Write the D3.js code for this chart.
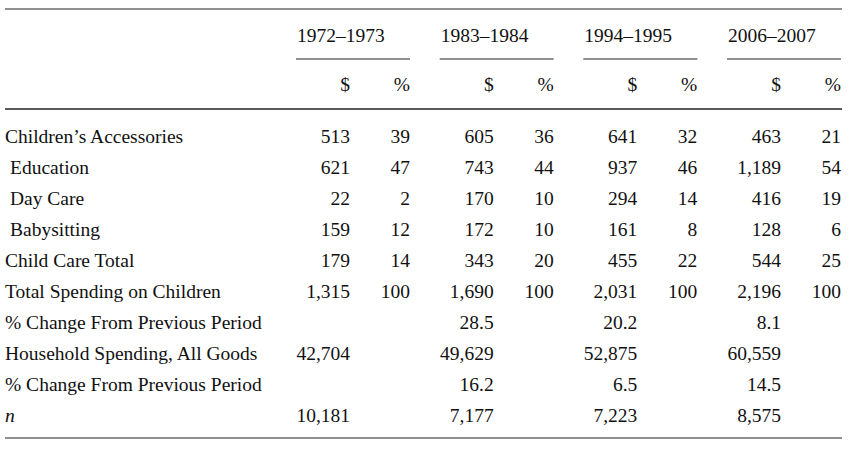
<!DOCTYPE html>
<html><head><meta charset="utf-8">
<script src="https://cdn.jsdelivr.net/npm/d3@7"></script>
<style>body{margin:0;background:#fff}text{font-family:"Liberation Serif","Times New Roman",serif;font-size:19.5px;fill:#111}</style>
</head><body><svg id="tbl" width="862" height="455"></svg>
<script>
const periods = ["1972–1973", "1983–1984", "1994–1995", "2006–2007"];
const rowLabels = ["Children’s Accessories", " Education", " Day Care", " Babysitting", "Child Care Total",
  "Total Spending on Children", "% Change From Previous Period", "Household Spending, All Goods",
  "% Change From Previous Period", "n"];
const dollars = [
  ["513", "605", "641", "463"],
  ["621", "743", "937", "1,189"],
  ["22", "170", "294", "416"],
  ["159", "172", "161", "128"],
  ["179", "343", "455", "544"],
  ["1,315", "1,690", "2,031", "2,196"],
  ["", "28.5", "20.2", "8.1"],
  ["42,704", "49,629", "52,875", "60,559"],
  ["", "16.2", "6.5", "14.5"],
  ["10,181", "7,177", "7,223", "8,575"]
];
const percents = [
  ["39", "36", "32", "21"],
  ["47", "44", "46", "54"],
  ["2", "10", "14", "19"],
  ["12", "10", "8", "6"],
  ["14", "20", "22", "25"],
  ["100", "100", "100", "100"],
  ["", "", "", ""],
  ["", "", "", ""],
  ["", "", "", ""],
  ["", "", "", ""]
];

const svg = d3.select("#tbl");
const x = d3.scalePoint().domain(d3.range(periods.length)).range([296, 727]);
const y = d3.scalePoint().domain(d3.range(rowLabels.length)).range([143, 422]);
const groupW = 114;

// rules
[9, 109, 438].forEach((yy, i) => svg.append("line").attr("x1", 5).attr("x2", 842)
  .attr("y1", yy).attr("y2", yy).attr("stroke", "#222").attr("stroke-width", i === 1 ? 1.3 : 1.1));

const g = svg.selectAll("g.period").data(periods).join("g").attr("class", "period")
  .attr("transform", (d, i) => `translate(${x(i)},0)`);
g.append("text").attr("x", 1).attr("y", 42).text(d => d);
g.append("line").attr("x1", 0).attr("x2", groupW).attr("y1", 59).attr("y2", 59)
  .attr("stroke", "#222").attr("stroke-width", 1.1);
g.append("text").attr("x", 54).attr("y", 91).attr("text-anchor", "end").text("$");
g.append("text").attr("x", groupW).attr("y", 91).attr("text-anchor", "end").text("%");

svg.selectAll("text.lab").data(rowLabels).join("text").attr("class", "lab")
  .attr("x", (d) => d.startsWith(" ") ? 10 : 5).attr("y", (d, i) => y(i))
  .style("font-style", d => d === "n" ? "italic" : null).text(d => d.trim());

rowLabels.forEach((r, ri) => {
  periods.forEach((p, pi) => {
    svg.append("text").attr("x", x(pi) + 54).attr("y", y(ri)).attr("text-anchor", "end").text(dollars[ri][pi]);
    svg.append("text").attr("x", x(pi) + groupW).attr("y", y(ri)).attr("text-anchor", "end").text(percents[ri][pi]);
  });
});
</script></body></html>
